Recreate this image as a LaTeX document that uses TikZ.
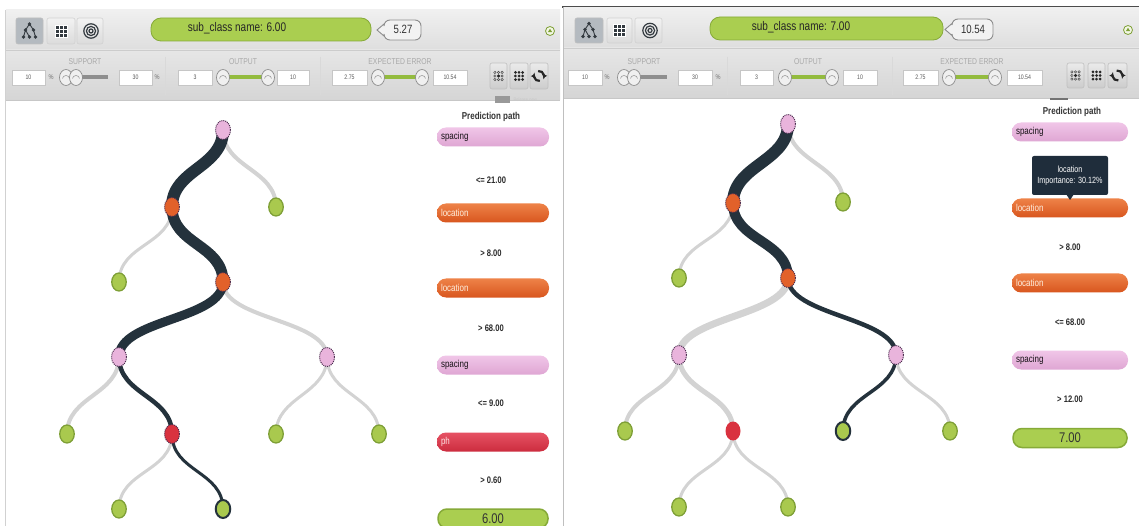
\documentclass[tikz,border=0pt]{standalone}
\usepackage{fontspec}
\setmainfont{Liberation Sans}[FakeStretch=0.8]
\usetikzlibrary{shapes.geometric,backgrounds,calc,arrows.meta}
\definecolor{pathdark}{HTML}{24323C}
\definecolor{edgegray}{HTML}{D3D3D3}
\definecolor{nodepink}{HTML}{E9B4DC}
\definecolor{nodeorange}{HTML}{E2612A}
\definecolor{nodered}{HTML}{D9323F}
\definecolor{leafgreen}{HTML}{A9C94E}
\definecolor{leafedge}{HTML}{7E9F36}
\definecolor{dotborder}{HTML}{4A2C4E}
\definecolor{pillgreen}{HTML}{AACE50}
\definecolor{pillgreenedge}{HTML}{86AA38}
\definecolor{barsel}{HTML}{B4BAC0}
\definecolor{tipbg}{HTML}{1F2D3B}
\definecolor{labelgray}{HTML}{A8A8A8}
\definecolor{boxedge}{HTML}{C6C6C6}
\definecolor{slidergreen}{HTML}{93BB3E}
\definecolor{slidergray}{HTML}{8E8E8E}
\definecolor{condtext}{HTML}{2A2A2A}
\definecolor{hdrtop}{HTML}{F0F0F0}
\definecolor{hdrbot}{HTML}{DEDEDE}
\definecolor{tbtop}{HTML}{E6E6E6}
\definecolor{tbbot}{HTML}{D5D5D5}
\definecolor{icondark}{HTML}{333A40}
\definecolor{pinktop}{HTML}{F0C6E8}
\definecolor{pinkbot}{HTML}{DFA6D3}
\definecolor{orangetop}{HTML}{EE8248}
\definecolor{orangebot}{HTML}{D8561E}
\definecolor{redtop}{HTML}{E65264}
\definecolor{redbot}{HTML}{CC2C3E}
\newcommand\treeedge[3]{\draw[#1] (#2.center) .. controls ($(#2.center)+(0,38)$) and ($(#3.center)+(0,-38)$) .. (#3.center);}
\tikzset{
  innernode/.style={ellipse, minimum width=15pt, minimum height=19pt, inner sep=0pt, draw=dotborder, densely dotted, line width=1pt},
  pinknode/.style={innernode, fill=nodepink},
  orangenode/.style={innernode, fill=nodeorange},
  rednode/.style={innernode, fill=nodered},
  leafnode/.style={ellipse, minimum width=14.5pt, minimum height=18pt, inner sep=0pt, fill=leafgreen, draw=leafedge, line width=1.3pt},
  leafend/.style={leafnode, draw=pathdark, line width=2pt},
  gedge/.style={draw=edgegray, line width=#1, line cap=round},
  dedge/.style={draw=pathdark, line width=#1, line cap=round},
  hdrpill/.style={rounded corners=10pt, fill=pillgreen, draw=pillgreenedge, line width=0.8pt, minimum height=23pt, inner sep=0pt},
  hdrtext/.style={font=\fontsize{12.5}{14}\selectfont, text=black!85},
  calltext/.style={font=\fontsize{12}{14}\selectfont, text=black!80},
  tblabel/.style={font=\fontsize{8.5}{10}\selectfont, text=labelgray},
  numbox/.style={draw=boxedge, fill=white, minimum height=15pt, inner sep=0pt, font=\fontsize{6.5}{8}\selectfont, text=black!65},
  pcttext/.style={font=\fontsize{7}{8}\selectfont, text=black!55},
  tbbutton/.style={rounded corners=2pt, top color=white!92!black, bottom color=white!80!black, draw=black!25, line width=0.6pt},
  iconbtn/.style={rounded corners=2pt, top color=white!95!black, bottom color=white!86!black, draw=black!18, line width=0.6pt},
  predpill/.style={rounded corners=9pt, minimum height=19pt, inner sep=0pt, text width=104pt, align=left, font=\fontsize{10}{12}\selectfont},
  pinkpill/.style={predpill, top color=pinktop, bottom color=pinkbot, text=black!75!nodepink!40!black},
  orangepill/.style={predpill, top color=orangetop, bottom color=orangebot, text=white!88!orange},
  redpill/.style={predpill, top color=redtop, bottom color=redbot, text=white!90!red},
  resultpill/.style={rounded corners=9pt, minimum height=19pt, inner sep=0pt, fill=pillgreen, draw=pillgreenedge, line width=1.5pt, font=\fontsize{14}{16}\selectfont, text=black!80},
  condlabel/.style={font=\bfseries\fontsize{9.5}{12}\selectfont, text=condtext},
  pathtitle/.style={font=\bfseries\fontsize{10}{12}\selectfont, text=black!80},
  sknob/.pic={\draw[draw=black!45, fill=white!94!black, line width=0.7pt] (0,0) ellipse (6.5 and 8);
              \draw[black!40, line width=0.6pt] (-3.5,1) arc (180:360:3.5 and 3);}
}
\begin{document}
\begin{tikzpicture}[x=1pt,y=-1pt]
\useasboundingbox (0,0) rectangle (1139,526);
\begin{pgfonlayer}{background}
\fill[white] (0,0) rectangle (1139,526);
\end{pgfonlayer}

% ================= LEFT PANEL CHROME =================
\draw[black!18, line width=0.8pt] (5.5,10) -- (5.5,526);
\shade[top color=hdrtop, bottom color=hdrbot] (6,10) rectangle (560,50);
\shade[top color=tbtop, bottom color=tbbot] (6,50) rectangle (560,100);
\draw[white!80!black, line width=0.6pt] (6,50) -- (560,50);
\draw[black!22, line width=0.8pt] (6,100) -- (560,100);

% header icon buttons
\filldraw[rounded corners=2pt, fill=barsel, draw=black!25, line width=0.6pt] (16,18) rectangle (43,44);
\path[iconbtn] (47,18) rectangle (75,44);
\path[iconbtn] (77,18) rectangle (103,44);
\begin{scope}[shift={(29.5,31)}]
  \draw[icondark, line width=0.9pt] (0,-7) -- (-4,-1) -- (-6,6) (-4,-1) -- (0,6) (0,-7) -- (4,-1) -- (6,6);
  \foreach \p in {(0,-7),(-4,-1),(4,-1),(-6,6),(0,6),(6,6)} \fill[icondark] \p circle (1.8);
\end{scope}
\begin{scope}[shift={(61,31)}]
  \fill[icondark] (-6,-6) rectangle (6,6);
  \draw[white, line width=0.8pt] (-2,-6) -- (-2,6) (2,-6) -- (2,6) (-6,-2) -- (6,-2) (-6,2) -- (6,2);
  \draw[white, line width=0.8pt] (-6,-6) rectangle (6,6);
\end{scope}
\begin{scope}[shift={(91,31)}]
  \draw[icondark, line width=1.2pt] (0,0) circle (2) (0,0) circle (4.6) (0,0) circle (7.2);
\end{scope}

% header green pill, text, callout, collapse icon
\node[hdrpill, minimum width=220pt] (Lhdr) at (261,29.5) {};
\node[hdrtext] (Lhdrtxt) at (237,28) {sub\_class name: 6.00};
\filldraw[fill=white!95!black, draw=black!45, line width=0.9pt] (377,30) -- (384,24) [rounded corners=6pt] |- (421,20) |- (384,40) [sharp corners] -- (384,36) -- cycle;
\node[calltext] (Lcall) at (403,29.5) {5.27};
\draw[draw=leafedge, fill=white!85!leafgreen, line width=0.8pt] (550,31) circle (4.5);
\fill[leafedge] (547.8,32.2) -- (552.2,32.2) -- (550,28.8) -- cycle;

% toolbar labels
\node[tblabel] (LsupL) at (85,62) {SUPPORT};
\node[tblabel] (LoutL) at (243,62) {OUTPUT};
\node[tblabel] (LerrL) at (400,62) {EXPECTED ERROR};
% separators
\draw[black!15, line width=0.8pt] (165,57) -- (165,95) (320,57) -- (320,95);
% support
\node[numbox, minimum width=33pt] (Lb1) at (28.5,77.5) {10};
\node[pcttext] (Lp1) at (51,77) {\%};
\draw[slidergray, line width=4pt] (78,77.5) -- (108,77.5);
\pic at (66,77.5) {sknob};
\pic at (76,77.5) {sknob};
\node[numbox, minimum width=33pt] (Lb2) at (135.5,77.5) {30};
\node[pcttext] (Lp2) at (157,77) {\%};
% output
\node[numbox, minimum width=34pt] (Lb3) at (195,77.5) {3};
\draw[slidergreen, line width=4pt] (223,77.5) -- (268,77.5);
\pic at (223,77.5) {sknob};
\pic at (268,77.5) {sknob};
\node[numbox, minimum width=32pt] (Lb4) at (293,77.5) {10};
% expected error
\node[numbox, minimum width=35pt] (Lb5) at (349.5,77.5) {2.75};
\draw[slidergreen, line width=4pt] (378,77.5) -- (422,77.5);
\pic at (378,77.5) {sknob};
\pic at (422,77.5) {sknob};
\node[numbox, minimum width=34pt] (Lb6) at (450,77.5) {10.54};
% buttons
\path[tbbutton] (490,63) rectangle (507,89);
\path[tbbutton] (510,63) rectangle (528,89);
\path[tbbutton] (530,63) rectangle (548,89);
\begin{scope}[shift={(498.5,76)}]
  \foreach \i in {-1,0,1} \foreach \j in {-1,0,1} \draw[black!70, line width=0.5pt] (\i*3.6,\j*3.6) circle (1.2);
  \fill[black!85] (0,0) circle (1.5);
\end{scope}
\begin{scope}[shift={(519,76)}]
  \foreach \i in {-1,0,1} \foreach \j in {-1,0,1} \fill[black!85] (\i*3.6,\j*3.6) circle (1.5);
\end{scope}
\begin{scope}[shift={(539,76)}]
  \draw[black!85, line width=2.2pt, -{Triangle[length=3pt,width=5pt]}] (80:5) arc (80:200:5);
  \draw[black!85, line width=2.2pt, -{Triangle[length=3pt,width=5pt]}] (260:5) arc (260:380:5);
\end{scope}
% release tag
\fill[black!40] (495,96) rectangle (510,103.5);
\node[font=\fontsize{5}{6}\selectfont, text=black!22, anchor=west] (Lrel) at (510,100) {Release new};

% ================= RIGHT PANEL CHROME =================
\draw[black!70, line width=1.2pt] (562,7) -- (1139,7);
\draw[black!25, line width=0.8pt] (563,7) -- (563,526);
\shade[top color=hdrtop, bottom color=hdrbot] (564,7.6) rectangle (1139,48);
\shade[top color=tbtop, bottom color=tbbot] (564,48) rectangle (1139,98);
\draw[white!80!black, line width=0.6pt] (564,48) -- (1139,48);
\draw[black!22, line width=0.8pt] (564,98) -- (1139,98);

\filldraw[rounded corners=2pt, fill=barsel, draw=black!25, line width=0.6pt] (575,18) rectangle (603,43);
\path[iconbtn] (607,18) rectangle (632,43);
\path[iconbtn] (635,18) rectangle (662,43);
\begin{scope}[shift={(589,30.5)}]
  \draw[icondark, line width=0.9pt] (0,-7) -- (-4,-1) -- (-6,6) (-4,-1) -- (0,6) (0,-7) -- (4,-1) -- (6,6);
  \foreach \p in {(0,-7),(-4,-1),(4,-1),(-6,6),(0,6),(6,6)} \fill[icondark] \p circle (1.8);
\end{scope}
\begin{scope}[shift={(619.5,30.5)}]
  \fill[icondark] (-6,-6) rectangle (6,6);
  \draw[white, line width=0.8pt] (-2,-6) -- (-2,6) (2,-6) -- (2,6) (-6,-2) -- (6,-2) (-6,2) -- (6,2);
  \draw[white, line width=0.8pt] (-6,-6) rectangle (6,6);
\end{scope}
\begin{scope}[shift={(650,30.5)}]
  \draw[icondark, line width=1.2pt] (0,0) circle (2) (0,0) circle (4.6) (0,0) circle (7.2);
\end{scope}

\node[hdrpill, minimum width=233pt] (Rhdr) at (826.5,28.5) {};
\node[hdrtext] (Rhdrtxt) at (801,27) {sub\_class name: 7.00};
\filldraw[fill=white!95!black, draw=black!45, line width=0.9pt] (945,29.5) -- (952,23.5) [rounded corners=6pt] |- (993,19) |- (952,40) [sharp corners] -- (952,35.5) -- cycle;
\node[calltext] (Rcall) at (973,29.5) {10.54};
\draw[draw=leafedge, fill=white!85!leafgreen, line width=0.8pt] (1128,30) circle (4.5);
\fill[leafedge] (1125.8,31.2) -- (1130.2,31.2) -- (1128,27.8) -- cycle;

\node[tblabel] (RsupL) at (644,62) {SUPPORT};
\node[tblabel] (RoutL) at (808,62) {OUTPUT};
\node[tblabel] (RerrL) at (972,62) {EXPECTED ERROR};
\draw[black!15, line width=0.8pt] (727,57) -- (727,95) (892,57) -- (892,95);
\node[numbox, minimum width=34pt] (Rb1) at (585,77.5) {10};
\node[pcttext] (Rp1) at (607,77) {\%};
\draw[slidergray, line width=4pt] (633,77.5) -- (667,77.5);
\pic at (624,77.5) {sknob};
\pic at (634,77.5) {sknob};
\node[numbox, minimum width=34pt] (Rb2) at (695,77.5) {30};
\node[pcttext] (Rp2) at (718,77) {\%};
\node[numbox, minimum width=33pt] (Rb3) at (756.5,77.5) {3};
\draw[slidergreen, line width=4pt] (785,77.5) -- (832,77.5);
\pic at (785,77.5) {sknob};
\pic at (832,77.5) {sknob};
\node[numbox, minimum width=34pt] (Rb4) at (860,77.5) {10};
\node[numbox, minimum width=35pt] (Rb5) at (920.5,77.5) {2.75};
\draw[slidergreen, line width=4pt] (949,77.5) -- (995,77.5);
\pic at (949,77.5) {sknob};
\pic at (995,77.5) {sknob};
\node[numbox, minimum width=35pt] (Rb6) at (1024.5,77.5) {10.54};
\path[tbbutton] (1067,63) rectangle (1084,88);
\path[tbbutton] (1088,63) rectangle (1105,88);
\path[tbbutton] (1108,63) rectangle (1127,88);
\begin{scope}[shift={(1075.5,75.5)}]
  \foreach \i in {-1,0,1} \foreach \j in {-1,0,1} \draw[black!70, line width=0.5pt] (\i*3.6,\j*3.6) circle (1.2);
  \fill[black!85] (0,0) circle (1.5);
\end{scope}
\begin{scope}[shift={(1096.5,75.5)}]
  \foreach \i in {-1,0,1} \foreach \j in {-1,0,1} \fill[black!85] (\i*3.6,\j*3.6) circle (1.5);
\end{scope}
\begin{scope}[shift={(1117.5,75.5)}]
  \draw[black!85, line width=2.2pt, -{Triangle[length=3pt,width=5pt]}] (80:5) arc (80:200:5);
  \draw[black!85, line width=2.2pt, -{Triangle[length=3pt,width=5pt]}] (260:5) arc (260:380:5);
\end{scope}
\fill[black!55] (1050,98) rectangle (1068,100.5);

% ================= LEFT TREE =================
\node[pinknode] (L0) at (223,130) {};
\node[orangenode] (L1) at (172,207) {};
\node[leafnode] (L1r) at (276,207) {};
\node[orangenode] (L2) at (223,282) {};
\node[leafnode] (L2l) at (119,282) {};
\node[pinknode] (L3a) at (119,357) {};
\node[pinknode] (L3b) at (327,357) {};
\node[leafnode] (L4a) at (67,434) {};
\node[rednode] (L4b) at (172,434) {};
\node[leafnode] (L4c) at (276,434) {};
\node[leafnode] (L4d) at (379,434) {};
\node[leafnode] (L5a) at (119,509) {};
\node[leafend] (L5b) at (223,509) {};
\begin{pgfonlayer}{background}
\treeedge{gedge=4pt}{L0}{L1r}
\treeedge{dedge=12pt}{L0}{L1}
\treeedge{gedge=3pt}{L1}{L2l}
\treeedge{dedge=11pt}{L1}{L2}
\treeedge{gedge=4pt}{L2}{L3b}
\treeedge{dedge=9pt}{L2}{L3a}
\treeedge{gedge=4pt}{L3a}{L4a}
\treeedge{dedge=4.5pt}{L3a}{L4b}
\treeedge{gedge=3pt}{L3b}{L4c}
\treeedge{gedge=3pt}{L3b}{L4d}
\treeedge{gedge=3pt}{L4b}{L5a}
\treeedge{dedge=3pt}{L4b}{L5b}
\end{pgfonlayer}

% ================= RIGHT TREE =================
\node[pinknode] (R0) at (788,124) {};
\node[orangenode] (R1) at (733,203) {};
\node[leafnode] (R1r) at (843,202) {};
\node[orangenode] (R2) at (788,278) {};
\node[leafnode] (R2l) at (679,278) {};
\node[pinknode] (R3a) at (679,355) {};
\node[pinknode] (R3b) at (896,355) {};
\node[leafnode] (R4a) at (625,431) {};
\node[ellipse, minimum width=15pt, minimum height=19pt, inner sep=0pt, fill=nodered] (R4b) at (733,431) {};
\node[leafend] (R4c) at (843,431) {};
\node[leafnode] (R4d) at (950,431) {};
\node[leafnode] (R5a) at (679,507) {};
\node[leafnode] (R5b) at (788,507) {};
\begin{pgfonlayer}{background}
\treeedge{gedge=4pt}{R0}{R1r}
\treeedge{dedge=12pt}{R0}{R1}
\treeedge{gedge=3pt}{R1}{R2l}
\treeedge{dedge=10pt}{R1}{R2}
\treeedge{gedge=7pt}{R2}{R3a}
\treeedge{dedge=4.5pt}{R2}{R3b}
\treeedge{gedge=4pt}{R3a}{R4a}
\treeedge{gedge=5pt}{R3a}{R4b}
\treeedge{dedge=3.5pt}{R3b}{R4c}
\treeedge{gedge=3pt}{R3b}{R4d}
\treeedge{gedge=3pt}{R4b}{R5a}
\treeedge{gedge=3pt}{R4b}{R5b}
\end{pgfonlayer}

% ================= LEFT PREDICTION PATH =================
\node[pathtitle] (Lpt) at (491,117) {Prediction path};
\node[pinkpill, minimum width=112pt] (Lq1) at (493,137) {spacing};
\node[condlabel] (Lc1) at (491,180) {<= 21.00};
\node[orangepill, minimum width=112pt] (Lq2) at (493,213) {location};
\node[condlabel] (Lc2) at (491,253) {> 8.00};
\node[orangepill, minimum width=112pt] (Lq3) at (493,288) {location};
\node[condlabel] (Lc3) at (491,328) {> 68.00};
\node[pinkpill, minimum width=112pt] (Lq4) at (493,365) {spacing};
\node[condlabel] (Lc4) at (491,403) {<= 9.00};
\node[redpill, minimum width=112pt] (Lq5) at (493,442) {ph};
\node[condlabel] (Lc5) at (491,480) {> 0.60};
\node[resultpill, minimum width=110pt] (Lres) at (493,518.5) {6.00};

% ================= RIGHT PREDICTION PATH =================
\node[pathtitle] (Rpt) at (1072,112) {Prediction path};
\node[pinkpill, minimum width=116pt, text width=108pt] (Rq1) at (1070,132) {spacing};
\node[orangepill, minimum width=116pt, text width=108pt] (Rq2) at (1070,208) {location};
\node[condlabel] (Rc2) at (1070,247) {> 8.00};
\node[orangepill, minimum width=116pt, text width=108pt] (Rq3) at (1070,283) {location};
\node[condlabel] (Rc3) at (1070,322) {<= 68.00};
\node[pinkpill, minimum width=116pt, text width=108pt] (Rq4) at (1070,360) {spacing};
\node[condlabel] (Rc4) at (1070,399) {> 12.00};
\node[resultpill, minimum width=114pt] (Rres) at (1070,438) {7.00};
% tooltip
\fill[tipbg, rounded corners=2pt] (1032,156) rectangle (1108,195);
\fill[tipbg] (1066,194) -- (1074,194) -- (1070,200) -- cycle;
\node[font=\fontsize{9}{11}\selectfont, text=white, align=center] (Rtip) at (1070,175.5) {location\\Importance: 30.12\%};
\end{tikzpicture}
\end{document}
